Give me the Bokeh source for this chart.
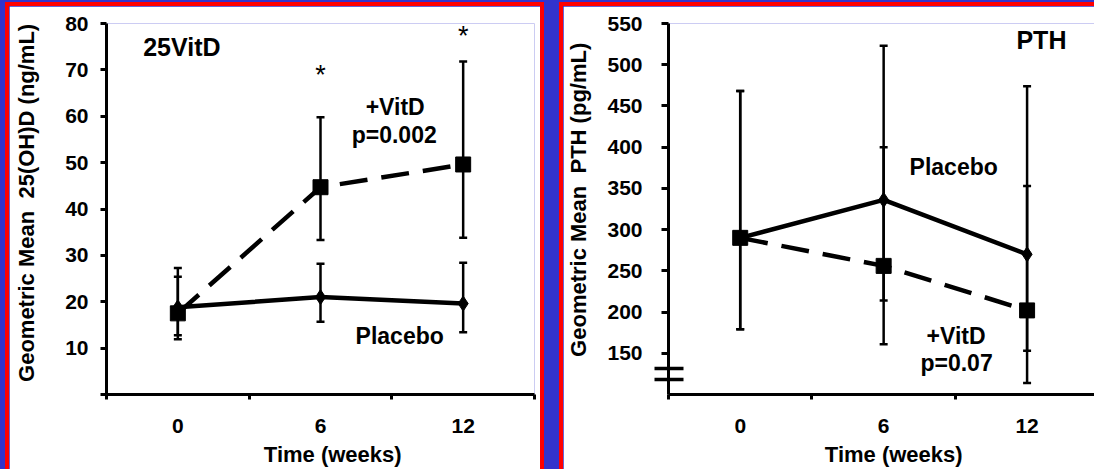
from bokeh.plotting import figure
from bokeh.layouts import row
from bokeh.models import (ColumnDataSource, Whisker, TeeHead, FixedTicker, Range1d,
                          GlobalInlineStyleSheet)
from bokeh.core.properties import value
from bokeh.embed import file_html
from bokeh.resources import INLINE

# ---------------- data ----------------
weeks = [0, 6, 12]
x_minor_ticks = [-3, 3, 9, 15]

# 25(OH)D panel (ng/mL)
vitd_25_mean = [17.5, 44.7, 49.6]
vitd_25_lo = [11.9, 33.3, 33.8]
vitd_25_hi = [25.4, 59.8, 71.8]
plac_25_mean = [18.8, 21.0, 19.6]
plac_25_lo = [12.8, 15.7, 13.4]
plac_25_hi = [27.3, 28.2, 28.4]
y_ticks_25 = [0, 10, 20, 30, 40, 50, 60, 70, 80]

# PTH panel (pg/mL)
vitd_pth_mean = [290, 256, 202]
vitd_pth_lo = [179, 161, 114]
vitd_pth_hi = [468, 400, 353]
plac_pth_mean = [290, 336, 270]
plac_pth_lo = [179, 214, 153]
plac_pth_hi = [468, 523, 474]
y_ticks_pth = [150, 200, 250, 300, 350, 400, 450, 500, 550]
pth_axis_break = [118, 131]   # axis-break marks on the PTH y axis

FONT = "Liberation Sans"
BLUE = "#3333cc"
RED = "#ff0000"
NB = "\u00a0"


def make_panel(y_start, y_end, y_ticks, y_break, x_end, ylabel, min_left, tick_out, ylab_standoff,
               vit_mean, vit_lo, vit_hi, pl_mean, pl_lo, pl_hi):
    p = figure(width=531, height=463, output_backend="svg", toolbar_location=None,
               x_range=Range1d(-3, x_end), y_range=Range1d(y_start, y_end),
               min_border_left=min_left, min_border_right=0 if x_end < 15 else 6,
               min_border_top=17, min_border_bottom=74)
    p.background_fill_color = "white"
    p.border_fill_color = "white"
    p.outline_line_color = None
    p.grid.visible = False

    # x axis
    xa = p.xaxis[0]
    xa.ticker = FixedTicker(ticks=weeks, minor_ticks=x_minor_ticks)
    xa.major_tick_line_color = None
    xa.major_tick_out = 0
    xa.major_tick_in = 0
    xa.minor_tick_out = 5
    xa.minor_tick_in = 0
    xa.minor_tick_line_width = 3
    xa.minor_tick_line_color = "black"
    xa.axis_line_width = 3
    xa.axis_line_color = "black"
    xa.major_label_text_font = FONT
    xa.major_label_text_font_style = "bold"
    xa.major_label_text_font_size = "21px"
    xa.major_label_text_color = "black"
    xa.major_label_standoff = 19
    xa.axis_label = NB * 4 + "Time (weeks)"
    xa.axis_label_text_font = FONT
    xa.axis_label_text_font_style = "bold"
    xa.axis_label_text_font_size = "22px"
    xa.axis_label_text_color = "black"
    xa.axis_label_standoff = 6

    # y axis (minor ticks used only for the axis-break marks)
    ya = p.yaxis[0]
    ya.ticker = FixedTicker(ticks=y_ticks, minor_ticks=y_break)
    if y_ticks[0] == 0:
        ya.major_label_overrides = {0: ""}
    if y_break:
        ya.minor_tick_line_color = "black"
        ya.minor_tick_line_width = 3.5
        ya.minor_tick_out = 14
        ya.minor_tick_in = 15
    else:
        ya.minor_tick_line_color = None
    ya.major_tick_out = tick_out
    ya.major_tick_in = 0
    ya.major_tick_line_width = 3
    ya.major_tick_line_color = "black"
    ya.axis_line_width = 3
    ya.axis_line_color = "black"
    ya.major_label_text_font = FONT
    ya.major_label_text_font_style = "bold"
    ya.major_label_text_font_size = "21px"
    ya.major_label_text_color = "black"
    ya.major_label_standoff = 12
    ya.axis_label = ylabel
    ya.axis_label_text_font = FONT
    ya.axis_label_text_font_style = "bold"
    ya.axis_label_text_font_size = "22px"
    ya.axis_label_text_color = "black"
    ya.axis_label_standoff = ylab_standoff

    # error bars
    for lo, hi in ((vit_lo, vit_hi), (pl_lo, pl_hi)):
        src = ColumnDataSource(dict(x=weeks, lo=lo, hi=hi))
        w = Whisker(source=src, base="x", lower="lo", upper="hi", dimension="height",
                    line_width=2.5, line_color="black",
                    lower_head=TeeHead(size=8, line_width=2.5, line_color="black"),
                    upper_head=TeeHead(size=8, line_width=2.5, line_color="black"))
        p.add_layout(w)

    # lines and markers
    p.line(weeks, pl_mean, line_width=4.5, line_color="black")
    p.line(weeks, vit_mean, line_width=4.5, line_color="black", line_dash="28 14")
    p.scatter(weeks, pl_mean, marker="diamond", size=15, color="black")
    p.scatter(weeks, vit_mean, marker="square", size=15, color="black")
    return p


def add_texts(p, xs, ys, texts, size, bold=True, baseline="middle"):
    p.text(x=xs, y=ys, text=texts, text_font=value(FONT),
           text_font_style="bold" if bold else "normal", text_font_size=size,
           text_align="center", text_baseline=baseline, text_color="black")


# ---------------- left panel ----------------
p1 = make_panel(0, 80, y_ticks_25, [], 15, NB * 2 + "Geometric Mean" + NB + " 25(OH)D (ng/mL)",
                97, 6, 23,
                vitd_25_mean, vitd_25_lo, vitd_25_hi, plac_25_mean, plac_25_lo, plac_25_hi)
add_texts(p1, [0.17], [75], ["25VitD"], "25px")
add_texts(p1, [9.14, 9.1], [62.0, 55.9], ["+VitD", "p=0.002"], "23px")
add_texts(p1, [9.33], [12.6], ["Placebo"], "23px")
add_texts(p1, [6, 12], [68.9, 77.2], ["*", "*"], "27px", bold=False, baseline="alphabetic")

# ---------------- right panel ----------------
p2 = make_panel(100, 550, y_ticks_pth, pth_axis_break, 14.82,
                NB * 3 + "Geometric Mean" + NB + " PTH (pg/mL)",
                105, 7, 13,
                vitd_pth_mean, vitd_pth_lo, vitd_pth_hi, plac_pth_mean, plac_pth_lo, plac_pth_hi)
add_texts(p2, [12.6], [530], ["PTH"], "25px")
add_texts(p2, [8.93], [376], ["Placebo"], "23px")
add_texts(p2, [9.03, 9.05], [170.7, 138.5], ["+VitD", "p=0.07"], "23px")

p1.margin = (6, 0, 0, 9)
p2.margin = (6, 0, 0, 23)
p1.styles = {"outline": f"4px solid {RED}"}
p2.styles = {"outline": f"4px solid {RED}"}

layout = row(p1, p2, spacing=0, styles={"background-color": BLUE})
layout.stylesheets = [GlobalInlineStyleSheet(
    css=f"html, body {{ background-color: {BLUE}; margin: 0; overflow: hidden; }}")]

open("out.html", "w").write(file_html(layout, INLINE))
